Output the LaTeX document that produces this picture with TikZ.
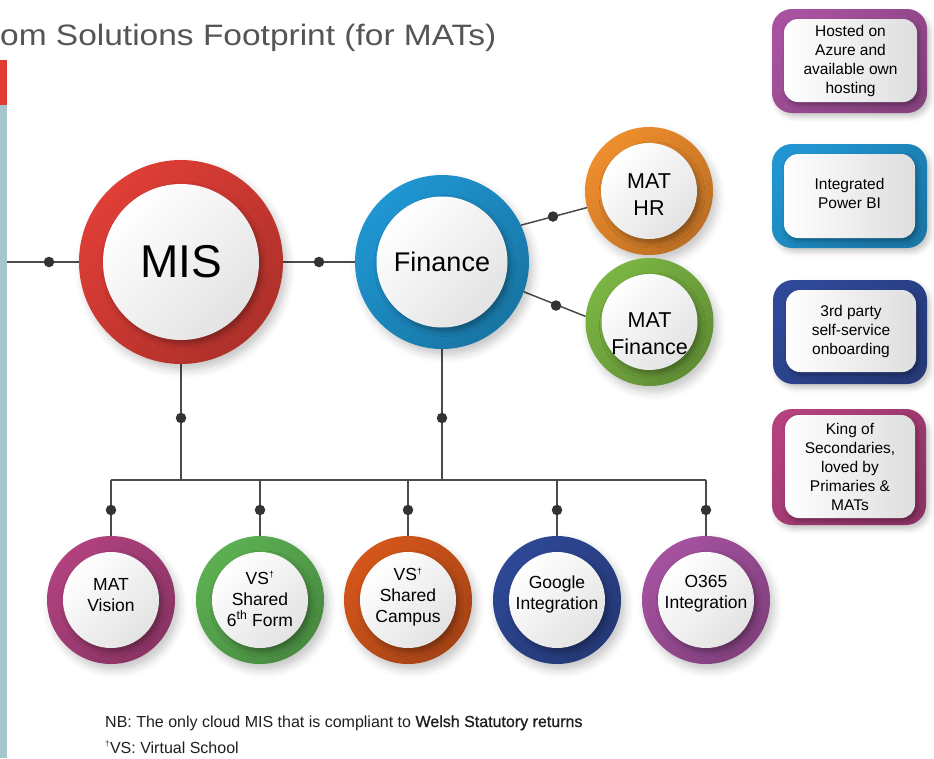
\documentclass[tikz,border=0pt]{standalone}
\usepackage{fontspec}
\usepackage{graphicx}
\setmainfont{Liberation Sans}
\usetikzlibrary{shadows.blur}
\pgfdeclarelayer{background}
\pgfsetlayers{background,main}
\definecolor{misred}{HTML}{DF3E36}
\definecolor{finblue}{HTML}{1F96D2}
\definecolor{hrorange}{HTML}{EF8E2D}
\definecolor{mfgreen}{HTML}{7BB543}
\definecolor{vismag}{HTML}{B0427F}
\definecolor{sixgreen}{HTML}{5CB052}
\definecolor{camporange}{HTML}{D4561B}
\definecolor{gnavy}{HTML}{2E4896}
\definecolor{opurple}{HTML}{A552A0}
\definecolor{boxA}{HTML}{A8529F}
\definecolor{boxB}{HTML}{2095D1}
\definecolor{boxC}{HTML}{2F4898}
\definecolor{boxD}{HTML}{B2417E}
\definecolor{leftblue}{HTML}{A6C6CE}
\definecolor{leftred}{HTML}{E03C31}
\definecolor{titlegray}{HTML}{555555}
\definecolor{linegray}{HTML}{4A4A4A}
\definecolor{dotgray}{HTML}{333333}
\newcommand\mydag{\textsuperscript{\scalebox{0.7}{†}}}
\tikzset{
  outerring/.style={circle, inner sep=0pt, draw=none,
    top color=#1, middle color=#1, bottom color=#1!78!black, shading angle=45,
    blur shadow={shadow xshift=4pt, shadow yshift=-6pt, shadow blur radius=8pt, shadow opacity=22}},
  innerdisc/.style={circle, inner sep=0pt, draw=none,
    top color=white, middle color=white, bottom color=black!11, shading angle=45,
    blur shadow={shadow xshift=3pt, shadow yshift=-4pt, shadow blur radius=5pt, shadow opacity=30}},
  bubtext/.style={align=center, inner sep=0pt, text=black},
  boxout/.style={rectangle, inner sep=0pt, draw=none, rounded corners=20pt,
    top color=#1, middle color=#1, bottom color=#1!80!black, shading angle=45,
    blur shadow={shadow xshift=3pt, shadow yshift=-4pt, shadow blur radius=5pt, shadow opacity=22}},
  boxin/.style={rectangle, inner sep=0pt, draw=none, rounded corners=14pt,
    left color=white, right color=black!13,
    blur shadow={shadow xshift=2pt, shadow yshift=-3pt, shadow blur radius=4pt, shadow opacity=30}},
  boxtext/.style={align=center, inner sep=0pt, text=black, font=\fontsize{15.5}{19}\selectfont},
  conn/.style={draw=linegray, line width=1.5pt},
  dotnode/.style={circle, fill=dotgray, inner sep=0pt, minimum size=10.5pt},
  notetext/.style={anchor=base west, inner sep=0pt, text=black!88, font=\fontsize{16}{19}\selectfont}
}
% name, centre, outer size, inner size, colour, font, text, text y-offset
\newcommand\mybubble[8]{%
  \node[outerring={#5}, minimum size=#3] (#1) at (#2) {};
  \node[innerdisc, minimum size=#4] (#1in) at (#2) {};
  \node[bubtext, font=#6, yshift=#8] (#1txt) at (#2) {#7};
}
\begin{document}
\begin{tikzpicture}[x=1pt,y=-1pt]
\useasboundingbox (0,0) rectangle (934,758);
% left edge strip
\fill[leftred] (0,60) rectangle (7,105);
\fill[leftblue] (0,105) rectangle (7,758);
% title
\node[anchor=base west, inner sep=0pt, text=titlegray, font=\fontsize{29.5}{35}\selectfont] (title) at (0,45) {\scalebox{1.135}[1]{om Solutions Footprint (for MATs)}};

% main bubbles
\mybubble{mis}{181,262}{204pt}{156pt}{misred}{\fontsize{46}{50}\selectfont}{MIS}{0pt}
\mybubble{fin}{442,262}{174pt}{131pt}{finblue}{\fontsize{27}{32}\selectfont}{Finance}{0pt}
\mybubble{hr}{649,191}{128pt}{96pt}{hrorange}{\fontsize{21.5}{27}\selectfont}{MAT\\HR}{-4pt}
\mybubble{mfin}{649.5,322}{128pt}{96pt}{mfgreen}{\fontsize{21.5}{27}\selectfont}{MAT\\Finance}{-12pt}

% bottom bubbles
\mybubble{vis}{111,600}{128pt}{96pt}{vismag}{\fontsize{17.5}{21}\selectfont}{MAT\\Vision}{5pt}
\mybubble{six}{260,600}{128pt}{96pt}{sixgreen}{\fontsize{17.5}{21}\selectfont}{VS\mydag\\Shared\\6\textsuperscript{th} Form}{1pt}
\mybubble{camp}{408,600}{128pt}{96pt}{camporange}{\fontsize{17.5}{21}\selectfont}{VS\mydag\\Shared\\Campus}{3pt}
\mybubble{goog}{557,600}{128pt}{96pt}{gnavy}{\fontsize{17.5}{21}\selectfont}{Google\\Integration}{6pt}
\mybubble{ofs}{706,600}{128pt}{96pt}{opurple}{\fontsize{17.5}{21}\selectfont}{O365\\Integration}{6pt}

% right boxes
\node[boxout={boxA}, minimum width=155pt, minimum height=104pt] (ba) at (849.5,61) {};
\node[boxin, minimum width=133pt, minimum height=83pt] (bain) at (850.5,60.5) {};
\node[boxtext] (bat) at (bain) {Hosted on\\Azure and\\available own\\hosting};

\node[boxout={boxB}, minimum width=155pt, minimum height=104pt] (bb) at (849.5,196) {};
\node[boxin, minimum width=131pt, minimum height=84pt] (bbin) at (849.5,196) {};
\node[boxtext] (bbt) at (849.5,193) {Integrated\\Power BI};

\node[boxout={boxC}, minimum width=154pt, minimum height=104pt] (bc) at (850,332) {};
\node[boxin, minimum width=130pt, minimum height=82pt] (bcin) at (851,331) {};
\node[boxtext] (bct) at (bcin) {3rd party\\self-service\\onboarding};

\node[boxout={boxD}, minimum width=154pt, minimum height=116pt] (bd) at (849,467) {};
\node[boxin, minimum width=130pt, minimum height=103pt] (bdin) at (850,466.5) {};
\node[boxtext] (bdt) at (bdin) {King of\\Secondaries,\\loved by\\Primaries \&\\MATs};

% junction coordinates
\coordinate (lstart) at (7,262);
\coordinate (jm) at (181,480);
\coordinate (jf) at (442,480);
\coordinate (j1) at (111,480);
\coordinate (j2) at (260,480);
\coordinate (j3) at (408,480);
\coordinate (j4) at (557,480);
\coordinate (j5) at (706,480);

% dots
\node[dotnode] (d0) at (49,262) {};
\node[dotnode] (d1) at (319,262) {};
\node[dotnode] (d2) at (553,216.5) {};
\node[dotnode] (d3) at (556,305.5) {};
\node[dotnode] (d4) at (181,418) {};
\node[dotnode] (d5) at (442,418) {};
\node[dotnode] (d6) at (111,510) {};
\node[dotnode] (d7) at (260,510) {};
\node[dotnode] (d8) at (408,510) {};
\node[dotnode] (d9) at (557,510) {};
\node[dotnode] (d10) at (706,510) {};

\begin{pgfonlayer}{background}
\draw[conn] (lstart) -- (mis);
\draw[conn] (mis) -- (fin);
\draw[conn] (fin.25) -- (hr.195.6);
\draw[conn] (fin.-20.7) -- (mfin.175.4);
\draw[conn] (mis) -- (jm);
\draw[conn] (fin) -- (jf);
\draw[conn] (j1) -- (j5);
\draw[conn] (j1) -- (vis);
\draw[conn] (j2) -- (six);
\draw[conn] (j3) -- (camp);
\draw[conn] (j4) -- (goog);
\draw[conn] (j5) -- (ofs);
\end{pgfonlayer}

% notes
\node[notetext] (nb) at (105,727) {NB: The only cloud MIS that is compliant to {\addfontfeature{FakeBold=1}Welsh Statutory returns}};
\node[notetext] (vsn) at (105,753) {\mydag VS: Virtual School};
\end{tikzpicture}
\end{document}
